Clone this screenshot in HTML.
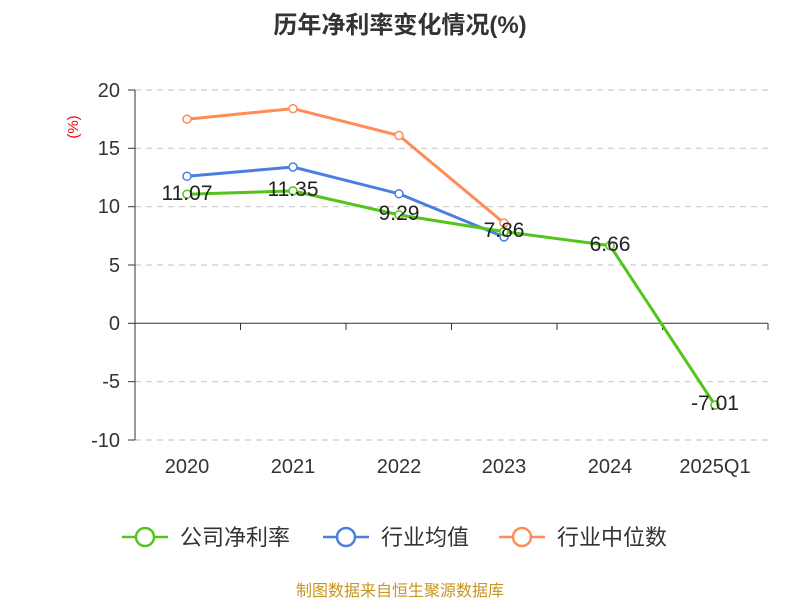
<!DOCTYPE html>
<html><head><meta charset="utf-8"><style>
body{margin:0;background:#fff;}
svg text{font-family:"Liberation Sans","Noto Sans CJK SC",sans-serif;}
</style></head><body>
<svg width="800" height="600" xmlns="http://www.w3.org/2000/svg">
<rect width="800" height="600" fill="#fff"/>
<text x="400" y="33" text-anchor="middle" font-size="24" font-weight="bold" fill="#333">历年净利率变化情况(%)</text>
<text x="78" y="127" font-size="15" fill="#e00" text-anchor="middle" transform="rotate(-90 78 127)">(%)</text>
<g stroke="#ccc" stroke-dasharray="6,5" stroke-width="1.2">
<line x1="135" y1="90" x2="768" y2="90"/>
<line x1="135" y1="148.3" x2="768" y2="148.3"/>
<line x1="135" y1="206.7" x2="768" y2="206.7"/>
<line x1="135" y1="265" x2="768" y2="265"/>
<line x1="135" y1="381.7" x2="768" y2="381.7"/>
<line x1="135" y1="440" x2="768" y2="440"/>
</g>
<g stroke="#333" stroke-width="1">
<line x1="135" y1="90" x2="135" y2="440"/>
<line x1="135" y1="323.3" x2="768" y2="323.3"/>
<line x1="128" y1="90" x2="135" y2="90"/><line x1="128" y1="148.3" x2="135" y2="148.3"/>
<line x1="128" y1="206.7" x2="135" y2="206.7"/><line x1="128" y1="265" x2="135" y2="265"/>
<line x1="128" y1="323.3" x2="135" y2="323.3"/><line x1="128" y1="381.7" x2="135" y2="381.7"/>
<line x1="128" y1="440" x2="135" y2="440"/>
<line x1="240.5" y1="323.3" x2="240.5" y2="330"/><line x1="346" y1="323.3" x2="346" y2="330"/>
<line x1="451.5" y1="323.3" x2="451.5" y2="330"/><line x1="557" y1="323.3" x2="557" y2="330"/>
<line x1="662.5" y1="323.3" x2="662.5" y2="330"/><line x1="768" y1="323.3" x2="768" y2="330"/>
</g>
<g font-size="20" fill="#333" text-anchor="end">
<text x="120" y="97">20</text><text x="120" y="155">15</text><text x="120" y="213">10</text>
<text x="120" y="272">5</text><text x="120" y="330">0</text><text x="120" y="388">-5</text><text x="120" y="447">-10</text>
</g>
<g font-size="20" fill="#333" text-anchor="middle">
<text x="187" y="473">2020</text><text x="293" y="473">2021</text><text x="399" y="473">2022</text>
<text x="504" y="473">2023</text><text x="610" y="473">2024</text><text x="715" y="473">2025Q1</text>
</g>
<polyline fill="none" stroke="#ff8c55" stroke-width="3" points="187,119.2 293,108.6 399,135.5 504,223"/>
<polyline fill="none" stroke="#4a7fe0" stroke-width="3" points="187,176.3 293,167 399,193.8 504,237"/>
<polyline fill="none" stroke="#52c41a" stroke-width="3" points="187,194.2 293,190.9 399,214.9 504,231.6 610,245.6 715,405.1"/>
<g fill="#fff" stroke-width="1.5">
<g stroke="#ff8c55"><circle cx="187" cy="119.2" r="4"/><circle cx="293" cy="108.6" r="4"/><circle cx="399" cy="135.5" r="4"/><circle cx="504" cy="223" r="4"/></g>
<g stroke="#4a7fe0"><circle cx="187" cy="176.3" r="4"/><circle cx="293" cy="167" r="4"/><circle cx="399" cy="193.8" r="4"/><circle cx="504" cy="237" r="4"/></g>
<g stroke="#52c41a"><circle cx="187" cy="194.2" r="4"/><circle cx="293" cy="190.9" r="4"/><circle cx="399" cy="214.9" r="4"/><circle cx="504" cy="231.6" r="4"/><circle cx="610" cy="245.6" r="4"/><circle cx="715" cy="405.1" r="4"/></g>
</g>
<g font-size="21" fill="#222" text-anchor="middle">
<text x="187" y="200">11.07</text><text x="293" y="196">11.35</text><text x="399" y="220">9.29</text>
<text x="504" y="237">7.86</text><text x="610" y="251">6.66</text><text x="715" y="410">-7.01</text>
</g>
<g stroke-width="2.5" fill="#fff">
<line x1="122" y1="537" x2="168" y2="537" stroke="#52c41a"/><circle cx="145" cy="537" r="9" stroke="#52c41a"/>
<line x1="323" y1="537" x2="369" y2="537" stroke="#4a7fe0"/><circle cx="346" cy="537" r="9" stroke="#4a7fe0"/>
<line x1="499" y1="537" x2="545" y2="537" stroke="#ff8c55"/><circle cx="522" cy="537" r="9" stroke="#ff8c55"/>
</g>
<g font-size="22" fill="#333">
<text x="180" y="545">公司净利率</text><text x="381" y="545">行业均值</text><text x="557" y="545">行业中位数</text>
</g>
<text x="400" y="596" text-anchor="middle" font-size="16" fill="#c8961e">制图数据来自恒生聚源数据库</text>
</svg>
</body></html>
